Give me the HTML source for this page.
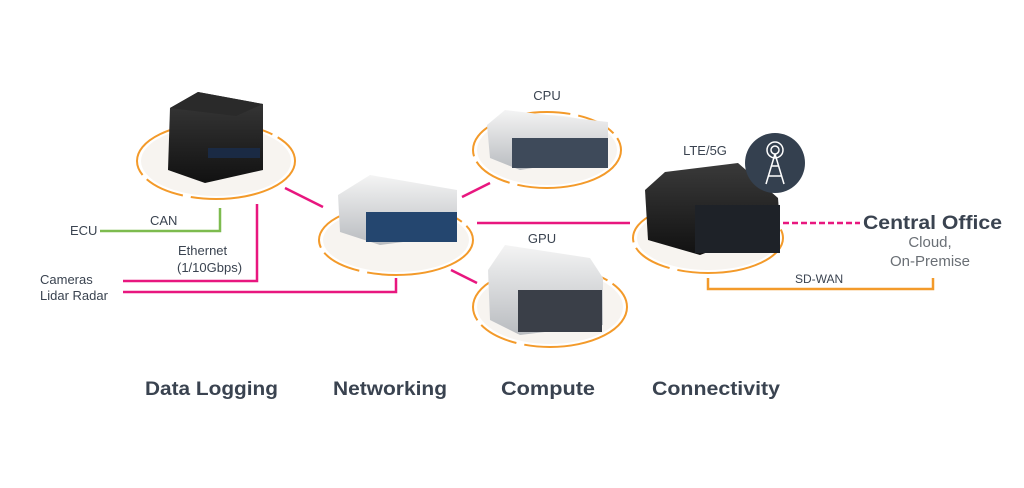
<!DOCTYPE html>
<html><head><style>
html,body{margin:0;padding:0;background:#fff;}
svg{display:block;font-family:"Liberation Sans",sans-serif;}
</style></head><body>
<svg width="1024" height="488" viewBox="0 0 1024 488" xmlns="http://www.w3.org/2000/svg">
<defs>
<linearGradient id="sil" x1="0" y1="0" x2="0" y2="1"><stop offset="0" stop-color="#f4f4f4"/><stop offset="1" stop-color="#b9bcc0"/></linearGradient>
<linearGradient id="blk" x1="0" y1="0" x2="0" y2="1"><stop offset="0" stop-color="#3a3a3a"/><stop offset="1" stop-color="#111"/></linearGradient>
</defs>
<g fill="#f7f4f0">
<ellipse cx="216" cy="161" rx="75" ry="35"/><ellipse cx="396" cy="240" rx="73" ry="32"/>
<ellipse cx="547" cy="150" rx="70" ry="35"/><ellipse cx="550" cy="307" rx="73" ry="37"/><ellipse cx="708" cy="238" rx="71" ry="32"/>
</g>
<g fill="none" stroke="#f39a2a" stroke-width="2">
<ellipse cx="216" cy="161" rx="79" ry="38" stroke-dasharray="120 8 40 6"/>
<ellipse cx="396" cy="240" rx="77" ry="35" stroke-dasharray="120 8 40 6"/>
<ellipse cx="547" cy="150" rx="74" ry="38" stroke-dasharray="120 8 40 6"/>
<ellipse cx="550" cy="307" rx="77" ry="40" stroke-dasharray="120 8 40 6"/>
<ellipse cx="708" cy="238" rx="75" ry="35" stroke-dasharray="120 8 40 6"/>
</g>
<g fill="none" stroke-width="2.5">
<polyline stroke="#7dbb4f" points="100,231 220,231 220,208"/>
<polyline stroke="#e8177f" points="123,281 257,281 257,204"/>
<polyline stroke="#e8177f" points="123,292 396,292 396,278"/>
<line stroke="#e8177f" x1="285" y1="188" x2="323" y2="207"/>
<line stroke="#e8177f" x1="462" y1="197" x2="490" y2="183"/>
<line stroke="#e8177f" x1="451" y1="270" x2="477" y2="283"/>
<line stroke="#e8177f" x1="477" y1="223" x2="630" y2="223"/>
<line stroke="#e8177f" x1="783" y1="223" x2="860" y2="223" stroke-dasharray="6 3"/>
<polyline stroke="#f39a2a" points="708,278 708,289 933,289 933,278"/>
</g>
<g>
<polygon points="170,108 198,92 263,104 263,170 205,183 168,170" fill="url(#blk)"/>
<polygon points="170,108 198,92 263,104 236,116" fill="#2a2a2a"/>
<rect x="208" y="148" width="52" height="10" fill="#1a2a44"/>
<polygon points="338,195 370,175 457,190 457,235 380,245 340,232" fill="url(#sil)"/>
<rect x="366" y="212" width="91" height="30" fill="#24466f"/>
<polygon points="487,125 505,110 608,122 608,156 520,170 490,158" fill="url(#sil)"/>
<rect x="512" y="138" width="96" height="30" fill="#3e4a5a"/>
<polygon points="488,270 505,245 590,258 603,278 603,325 520,335 490,320" fill="url(#sil)"/>
<rect x="518" y="290" width="84" height="42" fill="#3a3f48"/>
<polygon points="645,190 665,172 738,163 778,198 780,225 700,255 648,240" fill="url(#blk)"/>
<rect x="695" y="205" width="85" height="48" fill="#1e2228"/>
<circle cx="775" cy="163" r="30" fill="#34404f"/>
<g stroke="#fff" stroke-width="1.5" fill="none">
<line x1="775" y1="154" x2="766" y2="184"/><line x1="775" y1="154" x2="784" y2="184"/>
<line x1="769" y1="176" x2="781" y2="176"/><line x1="771" y1="166" x2="779" y2="166"/>
<circle cx="775" cy="150" r="4"/><circle cx="775" cy="150" r="8"/>
</g>
</g>
<g fill="#3a4350" font-size="13">
<text x="150" y="225">CAN</text>
<text x="70" y="235">ECU</text>
<text x="178" y="255">Ethernet</text>
<text x="177" y="272">(1/10Gbps)</text>
<text x="40" y="284">Cameras</text>
<text x="40" y="300">Lidar Radar</text>
<text x="547" y="100" text-anchor="middle">CPU</text>
<text x="542" y="243" text-anchor="middle">GPU</text>
<text x="705" y="155" text-anchor="middle">LTE/5G</text>
<text x="863" y="229" font-weight="bold" font-size="19" textLength="139" lengthAdjust="spacingAndGlyphs">Central Office</text>
<text x="930" y="247" font-size="15" text-anchor="middle" fill="#6a6f75">Cloud,</text>
<text x="930" y="266" font-size="15" text-anchor="middle" fill="#6a6f75">On-Premise</text>
<text x="795" y="283" font-size="12">SD-WAN</text>
</g>
<g fill="#3a4350" font-size="19" font-weight="bold">
<text x="145" y="395" textLength="133" lengthAdjust="spacingAndGlyphs">Data Logging</text>
<text x="333" y="395" textLength="114" lengthAdjust="spacingAndGlyphs">Networking</text>
<text x="501" y="395" textLength="94" lengthAdjust="spacingAndGlyphs">Compute</text>
<text x="652" y="395" textLength="128" lengthAdjust="spacingAndGlyphs">Connectivity</text>
</g>
</svg>
</body></html>
